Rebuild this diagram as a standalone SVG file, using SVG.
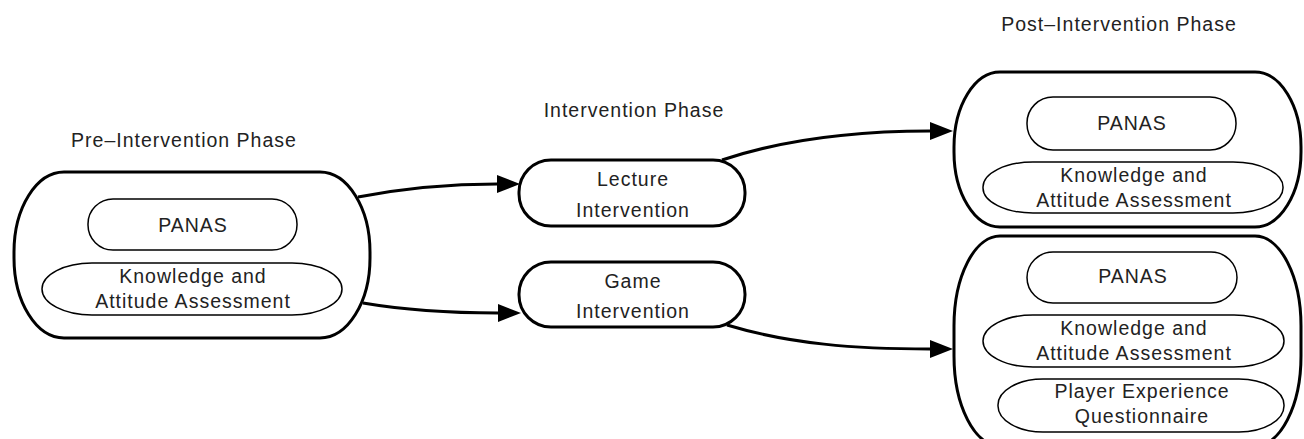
<svg xmlns="http://www.w3.org/2000/svg" width="1304" height="439" viewBox="0 0 1304 439">
<style>
text{font-family:"Liberation Sans",Arial,sans-serif;font-size:19.5px;letter-spacing:1px;fill:#222;text-anchor:middle}
.outer{fill:#fff;stroke:#000;stroke-width:3}
.inner{fill:#fff;stroke:#000;stroke-width:1.5}
.conn{fill:none;stroke:#000;stroke-width:3}
</style>
<defs>
<marker id="arr" markerUnits="userSpaceOnUse" markerWidth="24" markerHeight="20" refX="0" refY="9" orient="auto" viewBox="0 0 24 18">
<path d="M0,0 L23,9 L0,18 z" fill="#000"/>
</marker>
</defs>
<rect width="1304" height="439" fill="#fff"/>
<g id="labels">
<text x="184" y="147">Pre–Intervention Phase</text>
<text x="634" y="117">Intervention Phase</text>
<text x="1119" y="31">Post–Intervention Phase</text>
</g>
<g id="connectors">
<path class="conn" d="M358,197 C410,187 455,184 497,184" marker-end="url(#arr)"/>
<path class="conn" d="M363,303 C410,311 455,313 498,313" marker-end="url(#arr)"/>
<path class="conn" d="M722,160 C785,139 855,131 930,131" marker-end="url(#arr)"/>
<path class="conn" d="M727,325 C790,344 855,349 930,349" marker-end="url(#arr)"/>
</g>
<g id="pre">
<rect class="outer" x="14" y="172" width="356" height="166" rx="50" ry="80"/>
<rect class="inner" x="88" y="199" width="209" height="51" rx="25" ry="25"/>
<text x="193" y="232">PANAS</text>
<rect class="inner" x="42" y="263" width="300" height="52" rx="50" ry="26"/>
<text x="193" y="283">Knowledge and</text>
<text x="193" y="308">Attitude Assessment</text>
</g>
<g id="lecture">
<rect class="outer" x="519" y="160" width="226" height="66" rx="32" ry="32"/>
<text x="633" y="186">Lecture</text>
<text x="633" y="217">Intervention</text>
</g>
<g id="game">
<rect class="outer" x="519" y="262" width="226" height="65" rx="32" ry="32"/>
<text x="633" y="288">Game</text>
<text x="633" y="318">Intervention</text>
</g>
<g id="post-lecture">
<rect class="outer" x="954" y="72" width="347" height="155" rx="46" ry="75"/>
<rect class="inner" x="1027" y="97" width="209" height="53" rx="26" ry="26"/>
<text x="1132" y="130">PANAS</text>
<rect class="inner" x="983" y="162" width="300" height="51" rx="50" ry="25"/>
<text x="1134" y="182">Knowledge and</text>
<text x="1134" y="207">Attitude Assessment</text>
</g>
<g id="post-game">
<rect class="outer" x="954" y="236" width="347" height="210" rx="46" ry="90"/>
<rect class="inner" x="1027" y="252" width="210" height="51" rx="26" ry="26"/>
<text x="1133" y="283">PANAS</text>
<rect class="inner" x="983" y="315" width="301" height="52" rx="50" ry="26"/>
<text x="1134" y="335">Knowledge and</text>
<text x="1134" y="360">Attitude Assessment</text>
<rect class="inner" x="998" y="379" width="286" height="53" rx="45" ry="26"/>
<text x="1142" y="398">Player Experience</text>
<text x="1142" y="423">Questionnaire</text>
</g>
</svg>
